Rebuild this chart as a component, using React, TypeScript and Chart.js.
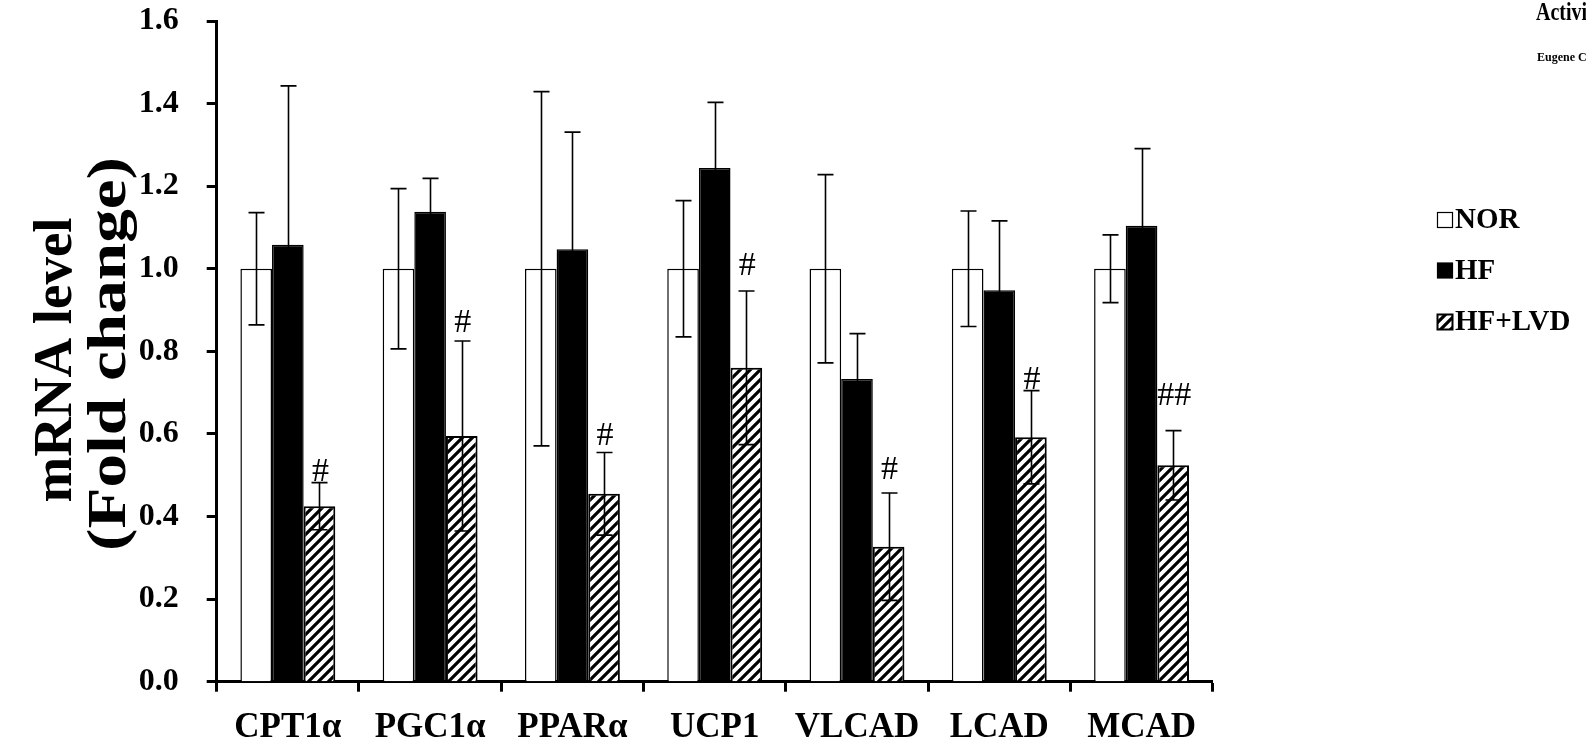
import React, { useEffect, useRef } from 'react';
import { Chart, registerables } from 'chart.js';

Chart.register(...registerables);

const categories = ['CPT1α', 'PGC1α', 'PPARα', 'UCP1', 'VLCAD', 'LCAD', 'MCAD'];
const seriesNames = ['NOR', 'HF', 'HF+LVD'];
const norValues = [1.0, 1.0, 1.0, 1.0, 1.0, 1.0, 1.0];
const norErrors = [0.136, 0.194, 0.429, 0.165, 0.228, 0.14, 0.082];
const hfValues = [1.058, 1.138, 1.047, 1.244, 0.733, 0.948, 1.104];
const hfErrors = [0.385, 0.081, 0.284, 0.159, 0.11, 0.168, 0.187];
const lvdValues = [0.425, 0.595, 0.455, 0.76, 0.327, 0.592, 0.524];
const lvdErrors = [0.057, 0.23, 0.1, 0.186, 0.13, 0.113, 0.084];
const sigMarks = ['#', '#', '#', '#', '#', '#', '##'];
const sigMarkY = [0.485, 0.848, 0.574, 0.986, 0.492, 0.708, 0.67];
const yTickValues = [0, 0.2, 0.4, 0.6, 0.8, 1.0, 1.2, 1.4, 1.6];
const titleLines = ['mRNA level', '(Fold change)'];
const cornerTitle = 'Activi';
const cornerAuthor = 'Eugene Cl';

const SERIF = "'Times New Roman', 'Liberation Serif', 'DejaVu Serif', serif";

function makeHatch(): CanvasPattern | string {
  const c = document.createElement('canvas');
  c.width = 10;
  c.height = 10;
  const g = c.getContext('2d');
  if (!g) return '#888';
  g.fillStyle = '#fff';
  g.fillRect(0, 0, 10, 10);
  g.strokeStyle = '#000';
  g.lineWidth = 3.2;
  g.beginPath();
  g.moveTo(-2, 12);
  g.lineTo(12, -2);
  g.moveTo(-7, 7);
  g.lineTo(7, -7);
  g.moveTo(3, 17);
  g.lineTo(17, 3);
  g.stroke();
  const p = g.createPattern(c, 'repeat');
  return p || '#888';
}

export default function App() {
  const canvasRef = useRef<HTMLCanvasElement | null>(null);

  useEffect(() => {
    const canvas = canvasRef.current;
    if (!canvas) return;
    const hatch = makeHatch();
    const errorSets = [norErrors, hfErrors, lvdErrors];

    const overlayPlugin = {
      id: 'overlay',
      afterDatasetsDraw(chart: any) {
        const ctx = chart.ctx;
        const yScale = chart.scales.y;
        ctx.save();
        ctx.strokeStyle = '#000';
        ctx.lineWidth = 1.6;
        chart.data.datasets.forEach((ds: any, di: number) => {
          const meta = chart.getDatasetMeta(di);
          meta.data.forEach((bar: any, i: number) => {
            const v = ds.data[i];
            const e = errorSets[di][i];
            const yTop = yScale.getPixelForValue(v + e);
            const yBot = yScale.getPixelForValue(v - e);
            const x = Math.round(bar.x) + 0.5;
            ctx.beginPath();
            ctx.moveTo(x, yTop);
            ctx.lineTo(x, yBot);
            ctx.moveTo(x - 8, yTop);
            ctx.lineTo(x + 8, yTop);
            ctx.moveTo(x - 8, yBot);
            ctx.lineTo(x + 8, yBot);
            ctx.stroke();
          });
        });
        // significance marks above HF+LVD bars
        const lvdMeta = chart.getDatasetMeta(2);
        ctx.fillStyle = '#000';
        ctx.font = `34px ${SERIF}`;
        ctx.textAlign = 'center';
        ctx.textBaseline = 'alphabetic';
        lvdMeta.data.forEach((bar: any, i: number) => {
          ctx.fillText(sigMarks[i], bar.x + 1, yScale.getPixelForValue(sigMarkY[i]));
        });
        ctx.restore();
      },
      afterDraw(chart: any) {
        const ctx = chart.ctx;
        ctx.save();
        ctx.fillStyle = '#000';
        // y-axis title (two rotated lines), stretched to the reference lengths
        ctx.font = `bold 54px ${SERIF}`;
        ctx.textAlign = 'center';
        ctx.textBaseline = 'middle';
        const titleX = [57, 111];
        const titleY = [360, 354];
        const titleLen = [285, 394];
        titleLines.forEach((t, i) => {
          const w = ctx.measureText(t).width;
          ctx.save();
          ctx.translate(titleX[i], titleY[i]);
          ctx.rotate(-Math.PI / 2);
          ctx.scale(titleLen[i] / w, 1);
          ctx.fillText(t, 0, 0);
          ctx.restore();
        });
        // legend
        const fills = ['#fff', '#000', hatch];
        const rowY = [220, 270.5, 322];
        ctx.textAlign = 'left';
        ctx.font = `bold 29px ${SERIF}`;
        seriesNames.forEach((name, i) => {
          const bx = 1437.5;
          const by = rowY[i] - 7.5;
          ctx.fillStyle = fills[i] as any;
          ctx.fillRect(bx, by, 15, 15);
          ctx.strokeStyle = '#000';
          ctx.lineWidth = i === 2 ? 2 : 1.2;
          ctx.strokeRect(bx, by, 15, 15);
          ctx.fillStyle = '#000';
          ctx.fillText(name, 1455, rowY[i] + 1);
        });
        // cropped header texts at the top right
        ctx.textBaseline = 'alphabetic';
        ctx.save();
        ctx.translate(1536, 20);
        ctx.scale(0.8, 1);
        ctx.font = `bold 25px ${SERIF}`;
        ctx.fillText(cornerTitle, 0, 0);
        ctx.restore();
        ctx.font = `bold 12px ${SERIF}`;
        ctx.fillText(cornerAuthor, 1537, 61);
        ctx.restore();
      },
    };

    const chart = new Chart(canvas, {
      type: 'bar',
      data: {
        labels: categories,
        datasets: [
          {
            label: seriesNames[0],
            data: norValues,
            backgroundColor: '#fff',
            borderColor: '#000',
            borderWidth: 1.5,
          },
          {
            label: seriesNames[1],
            data: hfValues,
            backgroundColor: '#000',
            borderColor: '#000',
            borderWidth: 1.5,
          },
          {
            label: seriesNames[2],
            data: lvdValues,
            backgroundColor: hatch as any,
            borderColor: '#000',
            borderWidth: 2,
          },
        ],
      },
      options: {
        responsive: false,
        animation: false,
        devicePixelRatio: 1,
        datasets: {
          bar: { barPercentage: 1.0, categoryPercentage: 0.667 },
        },
        layout: { padding: { left: 0, right: 373.3, top: 21, bottom: 0 } },
        plugins: {
          legend: { display: false },
          tooltip: { enabled: false },
        },
        scales: {
          x: {
            ticks: {
              color: '#000',
              font: { family: SERIF, size: 35, weight: 'bold' },
              padding: 15,
              maxRotation: 0,
              autoSkip: false,
            },
            grid: {
              offset: true,
              drawOnChartArea: false,
              drawTicks: true,
              tickLength: 10,
              tickWidth: 3,
              tickColor: '#000',
            },
            border: { display: true, color: '#000', width: 3 },
            afterFit: (s: any) => {
              s.height = 741 - 681.7;
            },
          },
          y: {
            min: 0,
            max: 1.6,
            afterBuildTicks: (s: any) => {
              s.ticks = yTickValues.map((v) => ({ value: v }));
            },
            ticks: {
              color: '#000',
              font: { family: SERIF, size: 32, weight: 'bold' },
              padding: 28,
              callback: (v: any) => Number(v).toFixed(1),
            },
            grid: {
              drawOnChartArea: false,
              drawTicks: true,
              tickLength: 10,
              tickWidth: 3,
              tickColor: '#000',
            },
            border: { display: true, color: '#000', width: 3 },
            afterFit: (s: any) => {
              s.width = 216.7;
              s.paddingTop = 10;
              s.paddingBottom = 10;
            },
          },
        },
      },
      plugins: [overlayPlugin],
    });

    return () => {
      chart.destroy();
    };
  }, []);

  return (
    <div
      style={{
        position: 'fixed',
        left: 0,
        top: 0,
        width: 1586,
        height: 741,
        background: '#fff',
        overflow: 'hidden',
      }}
    >
      <canvas ref={canvasRef} width={1586} height={741} style={{ width: 1586, height: 741, display: 'block' }} />
    </div>
  );
}
